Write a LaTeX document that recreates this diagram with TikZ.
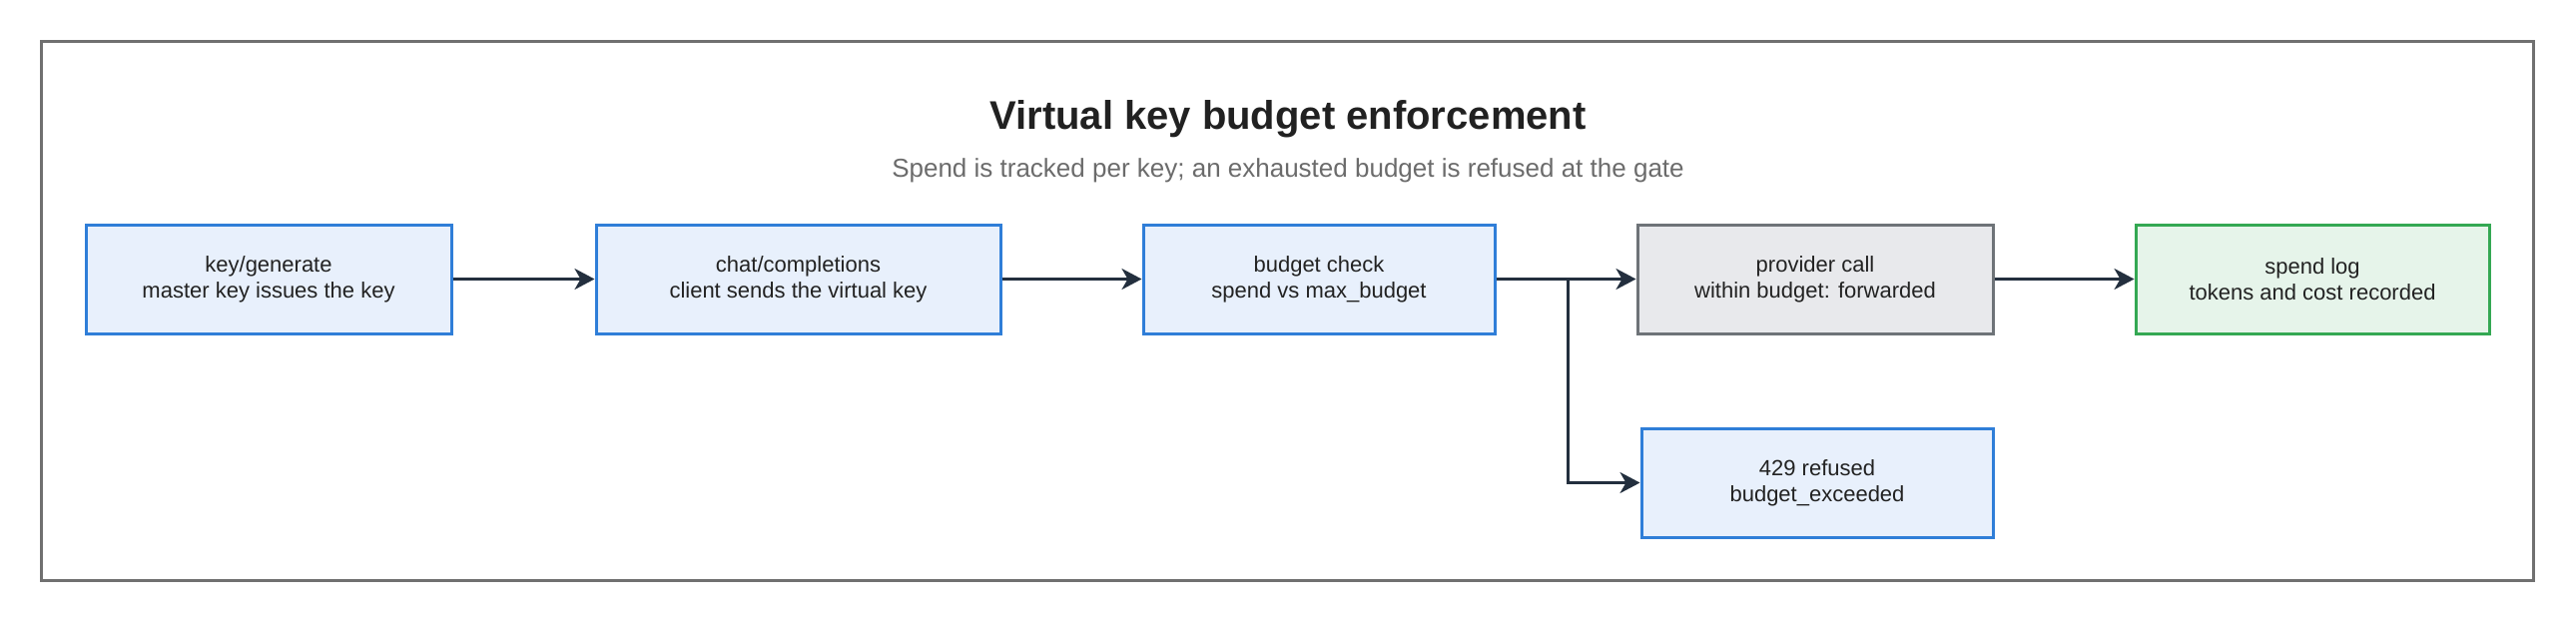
\documentclass[tikz,border=0pt]{standalone}
\usepackage{fontspec}
\setmainfont{Liberation Sans}
\usetikzlibrary{arrows.meta}
\definecolor{bluefill}{HTML}{E8F0FC}
\definecolor{blueline}{HTML}{2F7ED8}
\definecolor{grayfill}{HTML}{E8E9EC}
\definecolor{grayline}{HTML}{6E7378}
\definecolor{greenfill}{HTML}{E6F4EA}
\definecolor{greenline}{HTML}{34A853}
\definecolor{arrowc}{HTML}{232F3E}
\definecolor{framec}{HTML}{707070}
\definecolor{titlec}{HTML}{212121}
\definecolor{subc}{HTML}{6B6B6B}
\definecolor{txt}{HTML}{222222}
\begin{document}
\begin{tikzpicture}[x=0.5pt,y=-0.5pt,
  box/.style={draw, line width=1.5pt, minimum height=54.5pt, inner sep=0pt,
    align=center, font=\fontsize{11}{13}\selectfont, text=txt},
  bluebox/.style={box, draw=blueline, fill=bluefill},
  graybox/.style={box, draw=grayline, fill=grayfill},
  greenbox/.style={box, draw=greenline, fill=greenfill},
  arr/.style={draw=arrowc, line width=1.5pt, -{Stealth[length=10pt,width=10.5pt,inset=3pt]}},
  frame/.style={draw=framec, line width=1.5pt}]
\useasboundingbox (0,0) rectangle (2580,623);
\draw[frame] (41,41) rectangle (2537,581);
\node[font=\fontsize{20}{24}\selectfont\bfseries, text=titlec, anchor=base] (title) at (1290,129) {Virtual key budget enforcement};
\node[font=\fontsize{13}{15}\selectfont, text=subc, anchor=base] (sub) at (1290,177) {Spend is tracked per key; an exhausted budget is refused at the gate};
\node[bluebox, minimum width=183pt] (b1) at (269,279.5) {key/generate\\master key issues the key};
\node[bluebox, minimum width=202.5pt] (b2) at (799.5,279.5) {chat/completions\\client sends the virtual key};
\node[bluebox, minimum width=176pt] (b3) at (1321,279.5) {budget check\\spend vs max\_budget};
\node[graybox, minimum width=178pt] (b4) at (1818,279.5) {provider call\\within budget: forwarded};
\node[greenbox, minimum width=177pt] (b5) at (2316,279.5) {spend log\\tokens and cost recorded};
\node[bluebox, minimum width=176pt] (b6) at (1820,483.5) {429 refused\\budget\_exceeded};
\coordinate (j) at (1570,279.5);
\draw[arr] (b1) -- (b2);
\draw[arr] (b2) -- (b3);
\draw[arr] (b3) -- (b4);
\draw[arr] (b4) -- (b5);
\draw[arr] (j) |- (b6.west);
\end{tikzpicture}
\end{document}
